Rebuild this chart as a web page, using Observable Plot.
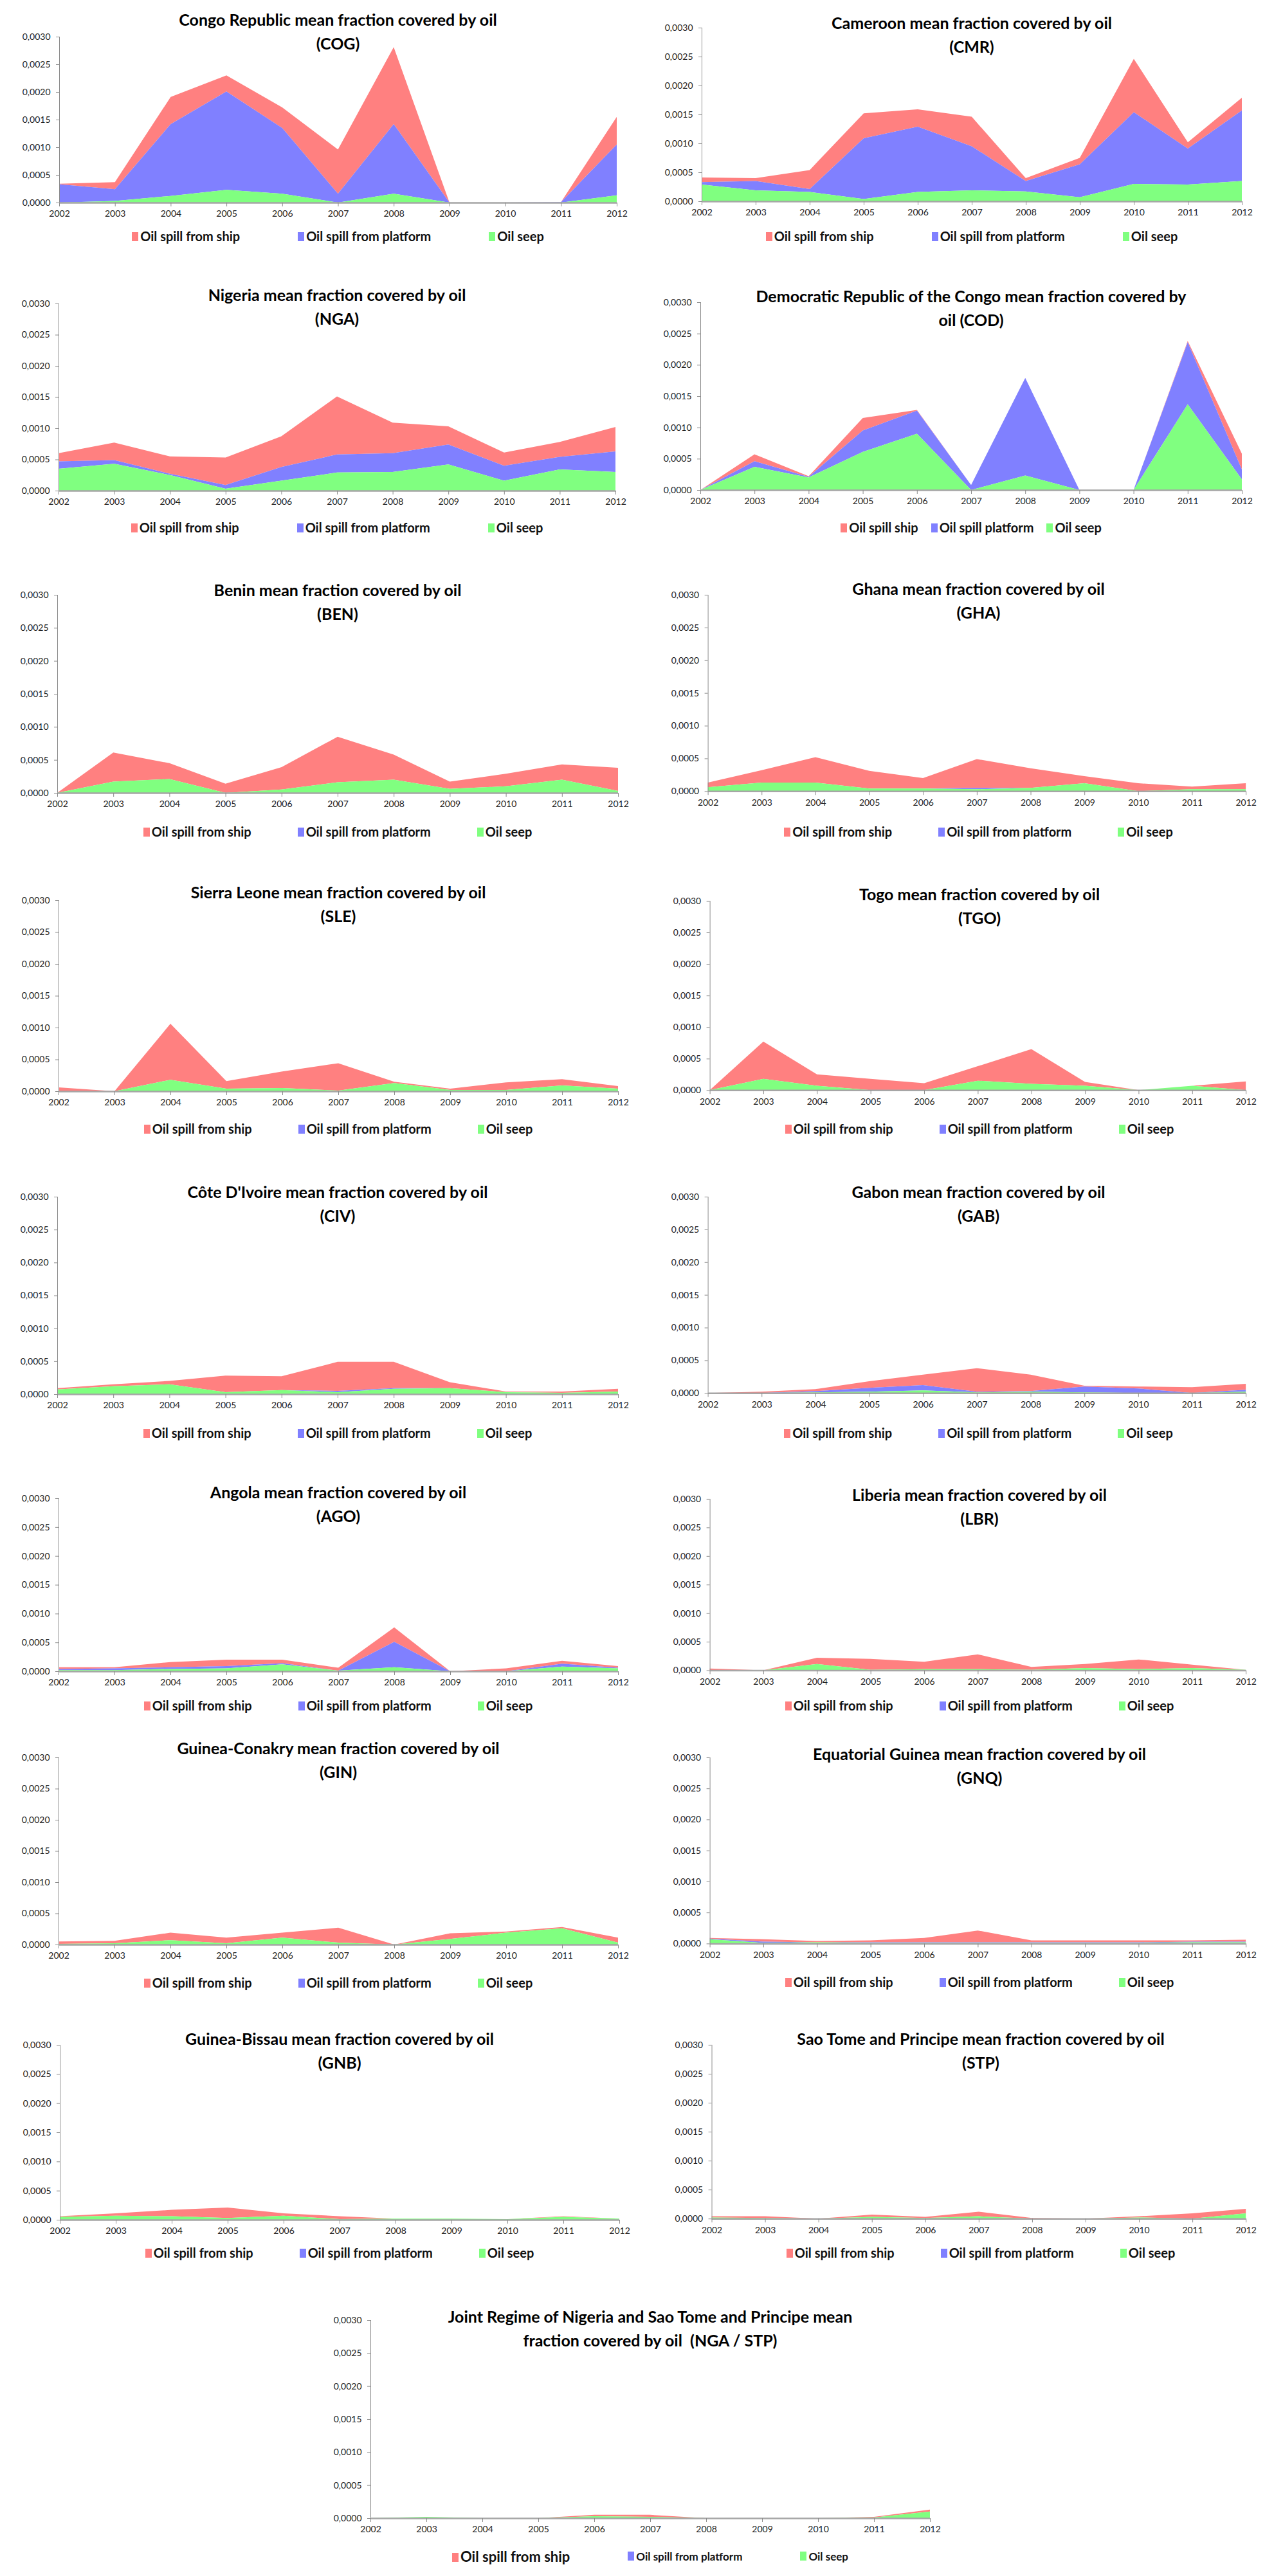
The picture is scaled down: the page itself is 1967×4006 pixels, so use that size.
<!DOCTYPE html>
<html>
<head>
<meta charset="utf-8">
<script src="https://cdn.jsdelivr.net/npm/d3@7"></script>
<script src="https://cdn.jsdelivr.net/npm/@observablehq/plot@0.6"></script>
<style>
  body { margin: 0; background: #fff; }
  #page { position: relative; width: 1967px; height: 4006px; font-family: Lato, "Open Sans", sans-serif; overflow: hidden; }
  .panel { position: absolute; }
  .title { position: absolute; text-align: center; font-weight: bold; font-size: 25px; line-height: 37px; color: #000; white-space: pre; }
  .legend { position: absolute; display: flex; justify-content: center; align-items: center; font-weight: bold; font-size: 20px; color: #111; white-space: nowrap; height: 26px; }
  .legend .sw { display: inline-block; width: 10px; height: 14px; margin-right: 3px; }
</style>
</head>
<body>
<div id="page"></div>
<script>
const years = [2002, 2003, 2004, 2005, 2006, 2007, 2008, 2009, 2010, 2011, 2012];
const yTicks = [0, 0.0005, 0.001, 0.0015, 0.002, 0.0025, 0.003];
const series = ["Oil spill from ship", "Oil spill from platform", "Oil seep"];
const colors = ["#ff8080", "#8080ff", "#80ff80"];

// values per series (2002..2012)
const cogShip     = [0.00001, 0.00013, 0.00049, 0.00029, 0.00037, 0.0008, 0.00139, 0, 0, 0, 0.0005];
const cogPlatform = [0.00033, 0.00021, 0.0013, 0.00178, 0.00119, 0.00016, 0.00126, 0, 0, 0.00001, 0.00092];
const cogSeep     = [0, 0.00003, 0.00012, 0.00023, 0.00016, 0, 0.00016, 0, 0, 0, 0.00013];

const cmrShip     = [0.00008, 0.00005, 0.00033, 0.00043, 0.0003, 0.00051, 0.00005, 0.00011, 0.00092, 0.00011, 0.00022];
const cmrPlatform = [0.00004, 0.00016, 0.00005, 0.00105, 0.00113, 0.00076, 0.00018, 0.00057, 0.00124, 0.00062, 0.00122];
const cmrSeep     = [0.00029, 0.00019, 0.00016, 0.00004, 0.00016, 0.00019, 0.00017, 0.00007, 0.0003, 0.00029, 0.00035];

const ngaShip     = [0.00013, 0.00028, 0.00028, 0.00044, 0.00049, 0.00093, 0.00049, 0.00029, 0.00021, 0.00024, 0.00039];
const ngaPlatform = [0.00012, 0.00006, 0.00002, 0.00006, 0.00022, 0.00029, 0.0003, 0.00032, 0.00024, 0.0002, 0.00033];
const ngaSeep     = [0.00035, 0.00043, 0.00025, 0.00003, 0.00016, 0.00029, 0.0003, 0.00042, 0.00016, 0.00034, 0.0003];

const codShip     = [0, 0.00011, 0.00001, 0.0002, 0.00001, 0, 0, 0, 0, 0.00002, 0.00025];
const codPlatform = [0, 0.00009, 0.00001, 0.00034, 0.00037, 0.00008, 0.00156, 0, 0, 0.00099, 0.00016];
const codSeep     = [0, 0.00037, 0.0002, 0.00061, 0.0009, 0, 0.00023, 0, 0, 0.00137, 0.00017];

const benShip     = [0, 0.00044, 0.00024, 0.00014, 0.00034, 0.00069, 0.00038, 0.00011, 0.00019, 0.00023, 0.00035];
const benPlatform = [0, 0, 0, 0, 0, 0, 0, 0, 0, 0, 0];
const benSeep     = [0, 0.00017, 0.00021, 0, 0.00005, 0.00016, 0.0002, 0.00006, 0.0001, 0.0002, 0.00003];

const ghaShip     = [0.00007, 0.00019, 0.00039, 0.00027, 0.00016, 0.00044, 0.0003, 0.00011, 0.00012, 0.00004, 0.00009];
const ghaPlatform = [0, 0, 0, 0, 0, 0.00002, 0, 0, 0, 0, 0];
const ghaSeep     = [0.00006, 0.00013, 0.00013, 0.00004, 0.00004, 0.00003, 0.00005, 0.00012, 0, 0.00003, 0.00003];

const sleShip     = [0.00006, 0, 0.00088, 0.00012, 0.00026, 0.00043, 0.00002, 0.00002, 0.00012, 0.0001, 0.00004];
const slePlatform = [0, 0, 0, 0, 0, 0, 0, 0, 0, 0, 0];
const sleSeep     = [0, 0, 0.00018, 0.00004, 0.00005, 0.00001, 0.00013, 0.00002, 0.00002, 0.00009, 0.00004];

const tgoShip     = [0, 0.00059, 0.00018, 0.00018, 0.00011, 0.00023, 0.00055, 0.00006, 0, 0, 0.00014];
const tgoPlatform = [0, 0, 0, 0, 0, 0, 0, 0, 0, 0, 0];
const tgoSeep     = [0, 0.00018, 0.00007, 0, 0, 0.00015, 0.0001, 0.00007, 0, 0.00007, 0];

const civShip     = [0.00002, 0.00003, 0.00005, 0.00025, 0.00021, 0.00044, 0.0004, 0.00009, 0.00001, 0.00002, 0.00004];
const civPlatform = [0, 0, 0, 0, 0, 0.00002, 0.00001, 0, 0, 0, 0];
const civSeep     = [0.00007, 0.00012, 0.00015, 0.00003, 0.00006, 0.00003, 0.00008, 0.00009, 0.00003, 0.00002, 0.00004];

const gabShip     = [0, 0.00002, 0.00003, 0.0001, 0.00016, 0.00036, 0.00025, 0.00001, 0.00003, 0.00009, 0.00009];
const gabPlatform = [0, 0, 0.00002, 0.00006, 0.00008, 0.00001, 0.00001, 0.00009, 0.00007, 0, 0.00003];
const gabSeep     = [0, 0, 0.00001, 0.00002, 0.00004, 0.00001, 0.00002, 0.00001, 0, 0, 0.00002];

const agoShip     = [0.00003, 0.00002, 0.00009, 0.00011, 0.00006, 0.00005, 0.00025, 0, 0.00005, 0.00005, 0.00003];
const agoPlatform = [0.00002, 0.00003, 0.00003, 0.00004, 0.00002, 0, 0.00044, 0, 0, 0.00005, 0.00001];
const agoSeep     = [0.00002, 0.00002, 0.00004, 0.00005, 0.00012, 0.00001, 0.00007, 0, 0, 0.00008, 0.00005];

const lbrShip     = [0.00003, 0, 0.00011, 0.00019, 0.00013, 0.00026, 0.00005, 0.00007, 0.00017, 0.00006, 0];
const lbrPlatform = [0, 0, 0, 0, 0, 0, 0, 0, 0, 0, 0];
const lbrSeep     = [0, 0, 0.00011, 0.00001, 0.00002, 0.00002, 0.00001, 0.00004, 0.00002, 0.00004, 0.00001];

const ginShip     = [0.00004, 0.00004, 0.00012, 0.00009, 0.00008, 0.00024, 0, 0.00009, 0.00002, 0.00002, 0.00008];
const ginPlatform = [0, 0, 0, 0, 0, 0, 0, 0, 0, 0, 0];
const ginSeep     = [0.00001, 0.00002, 0.00007, 0.00002, 0.00011, 0.00003, 0, 0.00009, 0.00019, 0.00026, 0.00003];

const gnqShip     = [0.00001, 0.00004, 0.00002, 0.00003, 0.00007, 0.00019, 0.00003, 0.00003, 0.00003, 0.00002, 0.00003];
const gnqPlatform = [0.00001, 0.00002, 0, 0.00001, 0.00001, 0.00001, 0.00001, 0.00001, 0.00001, 0.00001, 0.00001];
const gnqSeep     = [0.00007, 0.00001, 0.00002, 0.00001, 0.00001, 0.00001, 0.00001, 0.00001, 0.00001, 0.00002, 0.00002];

const gnbShip     = [0.00001, 0.00004, 0.00011, 0.00018, 0.00004, 0.00005, 0, 0, 0, 0.00001, 0];
const gnbPlatform = [0, 0, 0, 0, 0, 0, 0, 0, 0, 0, 0];
const gnbSeep     = [0.00005, 0.00007, 0.00006, 0.00003, 0.00007, 0.00001, 0.00002, 0.00002, 0.00001, 0.00005, 0.00002];

const stpShip     = [0.00002, 0.00003, 0, 0.00004, 0.00002, 0.00008, 0.00001, 0, 0.00002, 0.00009, 0.00008];
const stpPlatform = [0, 0, 0, 0, 0, 0, 0, 0, 0, 0, 0];
const stpSeep     = [0.00002, 0.00001, 0, 0.00003, 0.00001, 0.00004, 0, 0, 0.00002, 0, 0.00009];

const jointShip     = [0, 0, 0, 0, 0.00002, 0.00003, 0, 0, 0, 0.00001, 0.00003];
const jointPlatform = [0, 0, 0, 0, 0, 0, 0, 0, 0, 0, 0];
const jointSeep     = [0, 0.00002, 0, 0, 0.00003, 0.00002, 0, 0, 0, 0.00001, 0.0001];

const codLabels = ["Oil spill ship", "Oil spill platform", "Oil seep"];

// x0/x1 = plot left/right, y0/y1 = top/zero line, t = first title line, ly = legend row
const panels = [
  {ship: cogShip, platform: cogPlatform, seep: cogSeep, title: ["Congo Republic mean fraction covered by oil", "(COG)"], x0: 92, x1: 959, y0: 57, y1: 315, t: 30, ly: 367, gap: 90},
  {ship: cmrShip, platform: cmrPlatform, seep: cmrSeep, title: ["Cameroon mean fraction covered by oil", "(CMR)"], x0: 1091, x1: 1931, y0: 43, y1: 313, t: 35, ly: 367, gap: 90},
  {ship: ngaShip, platform: ngaPlatform, seep: ngaSeep, title: ["Nigeria mean fraction covered by oil", "(NGA)"], x0: 91, x1: 957, y0: 472, y1: 763, t: 458, ly: 820, gap: 90},
  {ship: codShip, platform: codPlatform, seep: codSeep, title: ["Democratic Republic of the Congo mean fraction covered by", "oil (COD)"], x0: 1089, x1: 1931, y0: 470, y1: 762, t: 460, ly: 820, gap: 20, labels: codLabels},
  {ship: benShip, platform: benPlatform, seep: benSeep, title: ["Benin mean fraction covered by oil", "(BEN)"], x0: 89, x1: 961, y0: 925, y1: 1233, t: 917, ly: 1293, gap: 72},
  {ship: ghaShip, platform: ghaPlatform, seep: ghaSeep, title: ["Ghana mean fraction covered by oil", "(GHA)"], x0: 1101, x1: 1942, y0: 925, y1: 1232, t: 915, ly: 1293, gap: 72},
  {ship: sleShip, platform: slePlatform, seep: sleSeep, title: ["Sierra Leone mean fraction covered by oil", "(SLE)"], x0: 91, x1: 961, y0: 1400, y1: 1697, t: 1387, ly: 1755, gap: 72},
  {ship: tgoShip, platform: tgoPlatform, seep: tgoSeep, title: ["Togo mean fraction covered by oil", "(TGO)"], x0: 1104, x1: 1942, y0: 1401, y1: 1697, t: 1390, ly: 1755, gap: 72},
  {ship: civShip, platform: civPlatform, seep: civSeep, title: ["Côte D'Ivoire mean fraction covered by oil", "(CIV)"], x0: 89, x1: 961, y0: 1861, y1: 2168, t: 1853, ly: 2228, gap: 72},
  {ship: gabShip, platform: gabPlatform, seep: gabSeep, title: ["Gabon mean fraction covered by oil", "(GAB)"], x0: 1101, x1: 1942, y0: 1861, y1: 2168, t: 1853, ly: 2228, gap: 72},
  {ship: agoShip, platform: agoPlatform, seep: agoSeep, title: ["Angola mean fraction covered by oil", "(AGO)"], x0: 91, x1: 961, y0: 2330, y1: 2599, t: 2320, ly: 2652, gap: 72},
  {ship: lbrShip, platform: lbrPlatform, seep: lbrSeep, title: ["Liberia mean fraction covered by oil", "(LBR)"], x0: 1104, x1: 1942, y0: 2331, y1: 2599, t: 2324, ly: 2652, gap: 72},
  {ship: ginShip, platform: ginPlatform, seep: ginSeep, title: ["Guinea-Conakry mean fraction covered by oil", "(GIN)"], x0: 91, x1: 961, y0: 2733, y1: 3024, t: 2718, ly: 3083, gap: 72},
  {ship: gnqShip, platform: gnqPlatform, seep: gnqSeep, title: ["Equatorial Guinea mean fraction covered by oil", "(GNQ)"], x0: 1104, x1: 1942, y0: 2733, y1: 3024, t: 2727, ly: 3082, gap: 72},
  {ship: gnbShip, platform: gnbPlatform, seep: gnbSeep, title: ["Guinea-Bissau mean fraction covered by oil", "(GNB)"], x0: 93, x1: 963, y0: 3180, y1: 3452, t: 3170, ly: 3503, gap: 72},
  {ship: stpShip, platform: stpPlatform, seep: stpSeep, title: ["Sao Tome and Principe mean fraction covered by oil", "(STP)"], x0: 1107, x1: 1943, y0: 3180, y1: 3452, t: 3170, ly: 3503, gap: 72},
  {ship: jointShip, platform: jointPlatform, seep: jointSeep, title: ["Joint Regime of Nigeria and Sao Tome and Principe mean", "fraction covered by oil  (NGA / STP)"], x0: 576, x1: 1446, y0: 3608, y1: 3916, t: 3602, ly: 3975, gap: 90, legendSizes: [22, 17, 17]}
];

const page = document.getElementById("page");
const mL = 75, mR = 30, mT = 10, mB = 40;

function fmtY(d) {
  return d.toFixed(4).replace(".", ",");
}

panels.forEach(p => {
  let rows = years.flatMap((yr, i) => [
    {year: yr, type: series[0], value: p.ship[i]},
    {year: yr, type: series[1], value: p.platform[i]},
    {year: yr, type: series[2], value: p.seep[i]}
  ]);
  let w = p.x1 - p.x0, h = p.y1 - p.y0;
  let chart = Plot.plot({
    width: w + mL + mR,
    height: h + mT + mB,
    marginLeft: mL,
    marginRight: mR,
    marginTop: mT,
    marginBottom: mB,
    style: { fontFamily: "Lato, 'Open Sans', sans-serif", fontSize: "14px", color: "#222", background: "transparent", overflow: "visible" },
    x: { domain: [2002, 2012] },
    y: { domain: [0, 0.003] },
    color: { domain: series, range: colors },
    marks: [
      Plot.areaY(rows, {x: "year", y: "value", fill: "type", order: [series[2], series[1], series[0]]}),
      Plot.ruleX([2002], {y1: 0, y2: 0.003, stroke: "#8c8c8c", strokeWidth: 1}),
      Plot.ruleY([0], {stroke: "#a6a6a6", strokeWidth: 2.5}),
      Plot.axisX({ticks: years, tickFormat: d => String(d), tickSize: 6, tickPadding: 6, stroke: "#8c8c8c", fill: "#222", label: null}),
      Plot.axisY({ticks: yTicks, tickFormat: fmtY, tickSize: 5, tickPadding: 9, stroke: "#8c8c8c", fill: "#222", label: null})
    ]
  });
  let box = document.createElement("div");
  box.className = "panel";
  box.style.left = (p.x0 - mL) + "px";
  box.style.top = (p.y0 - mT) + "px";
  box.appendChild(chart);
  page.appendChild(box);

  let cx = (p.x0 + p.x1) / 2;
  let title = document.createElement("div");
  title.className = "title";
  title.style.left = (cx - 500) + "px";
  title.style.width = "1000px";
  title.style.top = (p.t - 18) + "px";
  title.textContent = p.title.join("\n");
  page.appendChild(title);

  let legend = document.createElement("div");
  legend.className = "legend";
  legend.style.left = (cx - 500) + "px";
  legend.style.width = "1000px";
  legend.style.top = (p.ly - 13) + "px";
  legend.style.gap = p.gap + "px";
  let labels = p.labels || series;
  labels.forEach((lab, i) => {
    let item = document.createElement("span");
    if (p.legendSizes) item.style.fontSize = p.legendSizes[i] + "px";
    let sw = document.createElement("span");
    sw.className = "sw";
    sw.style.background = colors[i];
    item.appendChild(sw);
    item.appendChild(document.createTextNode(lab));
    legend.appendChild(item);
  });
  page.appendChild(legend);
});
</script>
</body>
</html>
